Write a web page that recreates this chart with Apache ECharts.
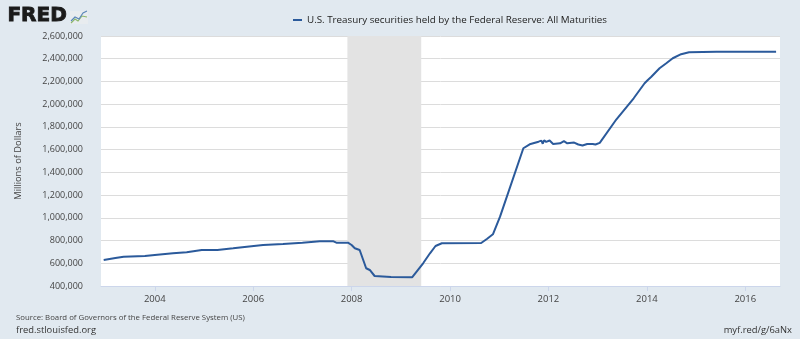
<!DOCTYPE html>
<html>
<head>
<meta charset="utf-8">
<script src="https://cdn.jsdelivr.net/npm/echarts@6/dist/echarts.min.js"></script>
<style>
html,body{margin:0;padding:0;background:#e1e9f0;}
#c{width:800px;height:339px;}
</style>
</head>
<body>
<div id="c"></div>
<script>
// ---- data ----
var seriesName = 'U.S. Treasury securities held by the Federal Reserve: All Maturities';
var dates = [
  '2002-12-18','2003-03-15','2003-05-15','2003-10-20','2004-01-01','2004-05-15','2004-08-25','2004-12-15',
  '2005-04-10','2005-08-05','2005-11-15','2006-03-15','2006-08-10','2007-01-01','2007-05-10','2007-08-20',
  '2007-09-10','2007-12-05','2008-01-01','2008-01-25','2008-03-01','2008-03-15','2008-04-05','2008-04-18',
  '2008-05-15','2008-06-20','2008-10-20','2009-03-25','2009-06-15','2009-08-05','2009-09-15','2009-11-01',
  '2010-08-20','2010-10-01','2010-11-15','2011-01-07','2011-06-29','2011-07-10','2011-08-15','2011-10-20',
  '2011-11-10','2011-11-20','2011-11-30','2011-12-15','2012-01-10','2012-02-05','2012-03-28','2012-04-25',
  '2012-05-20','2012-07-10','2012-08-10','2012-09-10','2012-10-15','2012-11-25','2012-12-15','2013-01-16',
  '2013-05-20','2013-09-25','2013-12-15','2014-01-08','2014-02-03','2014-04-05','2014-05-25','2014-07-12',
  '2014-09-12','2014-11-10','2015-06-01','2016-08-17'
];
var values = [
  629000,646000,658000,664000,673000,688000,697000,717000,
  717000,732000,746000,761000,770000,781000,793000,793000,
  781000,781000,761000,732000,717000,712000,600000,556000,
  541000,488000,480000,476000,600000,688000,752000,776000,
  778000,814000,855000,1010000,1612000,1626000,1647000,1670000,
  1679000,1652000,1682000,1668000,1680000,1650000,1656000,1674000,
  1656000,1662000,1645000,1636000,1650000,1650000,1645000,1660000,
  1867000,2052000,2184000,2213000,2242000,2316000,2360000,2404000,
  2440000,2457000,2461000,2462000
];
var recessionStart = '2007-12-01';
var recessionEnd = '2009-06-01';
var xAxisStart = '2002-11-28';
var xAxisEnd = '2016-09-15';
var xTickYears = [2004,2006,2008,2010,2012,2014,2016];

function ts(s){ var p = s.split('-'); return Date.UTC(+p[0], +p[1]-1, +p[2]); }
var data = dates.map(function(d,i){ return [ts(d), values[i]]; });
var xTickValues = xTickYears.map(function(y){ return Date.UTC(y,0,1); });
var FONT = '"Open Sans", "Noto Sans", sans-serif';
var LINE = '#2b5a9b';

var chart = echarts.init(document.getElementById('c'), null, {renderer:'canvas'});
chart.setOption({
  backgroundColor: '#e1e9f0',
  animation: false,
  textStyle: {fontFamily: FONT},
  legend: {
    show: true,
    left: 288, top: 10,
    icon: 'rect', itemWidth: 9, itemHeight: 2, itemGap: 5,
    textStyle: {fontFamily: FONT, fontSize: 9.8, color: '#222'},
    data: [seriesName]
  },
  grid: {left: 101, right: 20, top: 36, bottom: 53, show: true, backgroundColor: '#ffffff', borderWidth: 0},
  xAxis: {
    type: 'value',
    min: ts(xAxisStart),
    max: ts(xAxisEnd),
    axisLine: {show: true, lineStyle: {color: '#ccd6eb', width: 1}},
    axisTick: {show: true, length: 5, lineStyle: {color: '#ccd6eb'}, customValues: xTickValues},
    axisLabel: {
      customValues: xTickValues,
      margin: 8, color: '#444', fontSize: 9.5, fontFamily: FONT,
      formatter: function(v){ return String(new Date(v).getUTCFullYear()); }
    },
    splitLine: {show: false}
  },
  yAxis: {
    type: 'value',
    min: 400000, max: 2600000, interval: 200000,
    name: 'Millions of Dollars',
    nameLocation: 'middle', nameGap: 78, nameRotate: 90,
    nameTextStyle: {fontFamily: FONT, fontSize: 9.3, color: '#444'},
    axisLine: {show: false},
    axisTick: {show: false},
    axisLabel: {
      margin: 18, color: '#444', fontSize: 9, fontFamily: FONT,
      formatter: function(v){ return v.toString().replace(/\B(?=(\d{3})+(?!\d))/g, ','); }
    },
    splitLine: {show: true, lineStyle: {color: '#dcdcdc', width: 1}}
  },
  series: [{
    name: seriesName,
    type: 'line',
    data: data,
    showSymbol: false,
    symbol: 'none',
    lineStyle: {color: LINE, width: 2},
    itemStyle: {color: LINE},
    markArea: {
      silent: true,
      itemStyle: {color: '#e3e3e3', opacity: 1},
      data: [[{xAxis: ts(recessionStart)}, {xAxis: ts(recessionEnd)}]]
    },
    z: 3
  }],
  graphic: [
    {type: 'text', left: 7, top: 5, style: {text: 'FRED', font: 'bold 20px "DejaVu Sans", sans-serif', fill: '#1a1a1a', stroke: '#1a1a1a', lineWidth: 0.9}},
    {type: 'rect', shape: {x: 70, y: 11, width: 18, height: 13}, style: {fill: '#e8ecef', stroke: null}},
    {type: 'polyline', shape: {points: [[71,23],[75,19],[78,21],[82,16],[87,17]]}, style: {stroke: '#8db86a', lineWidth: 1.1, fill: 'none'}},
    {type: 'polyline', shape: {points: [[71,21],[75,17],[79,19],[83,13],[87,11]]}, style: {stroke: '#5a86b8', lineWidth: 1.1, fill: 'none'}},
    {type: 'text', left: 16, top: 314, style: {text: 'Source: Board of Governors of the Federal Reserve System (US)', font: '7.8px "Open Sans", sans-serif', fill: '#444'}},
    {type: 'text', left: 16, top: 326, style: {text: 'fred.stlouisfed.org', font: '9.4px "Open Sans", sans-serif', fill: '#333'}},
    {type: 'text', right: 8, top: 326, style: {text: 'myf.red/g/6aNx', font: '9.4px "Open Sans", sans-serif', fill: '#333'}}
  ]
});
</script>
</body>
</html>
